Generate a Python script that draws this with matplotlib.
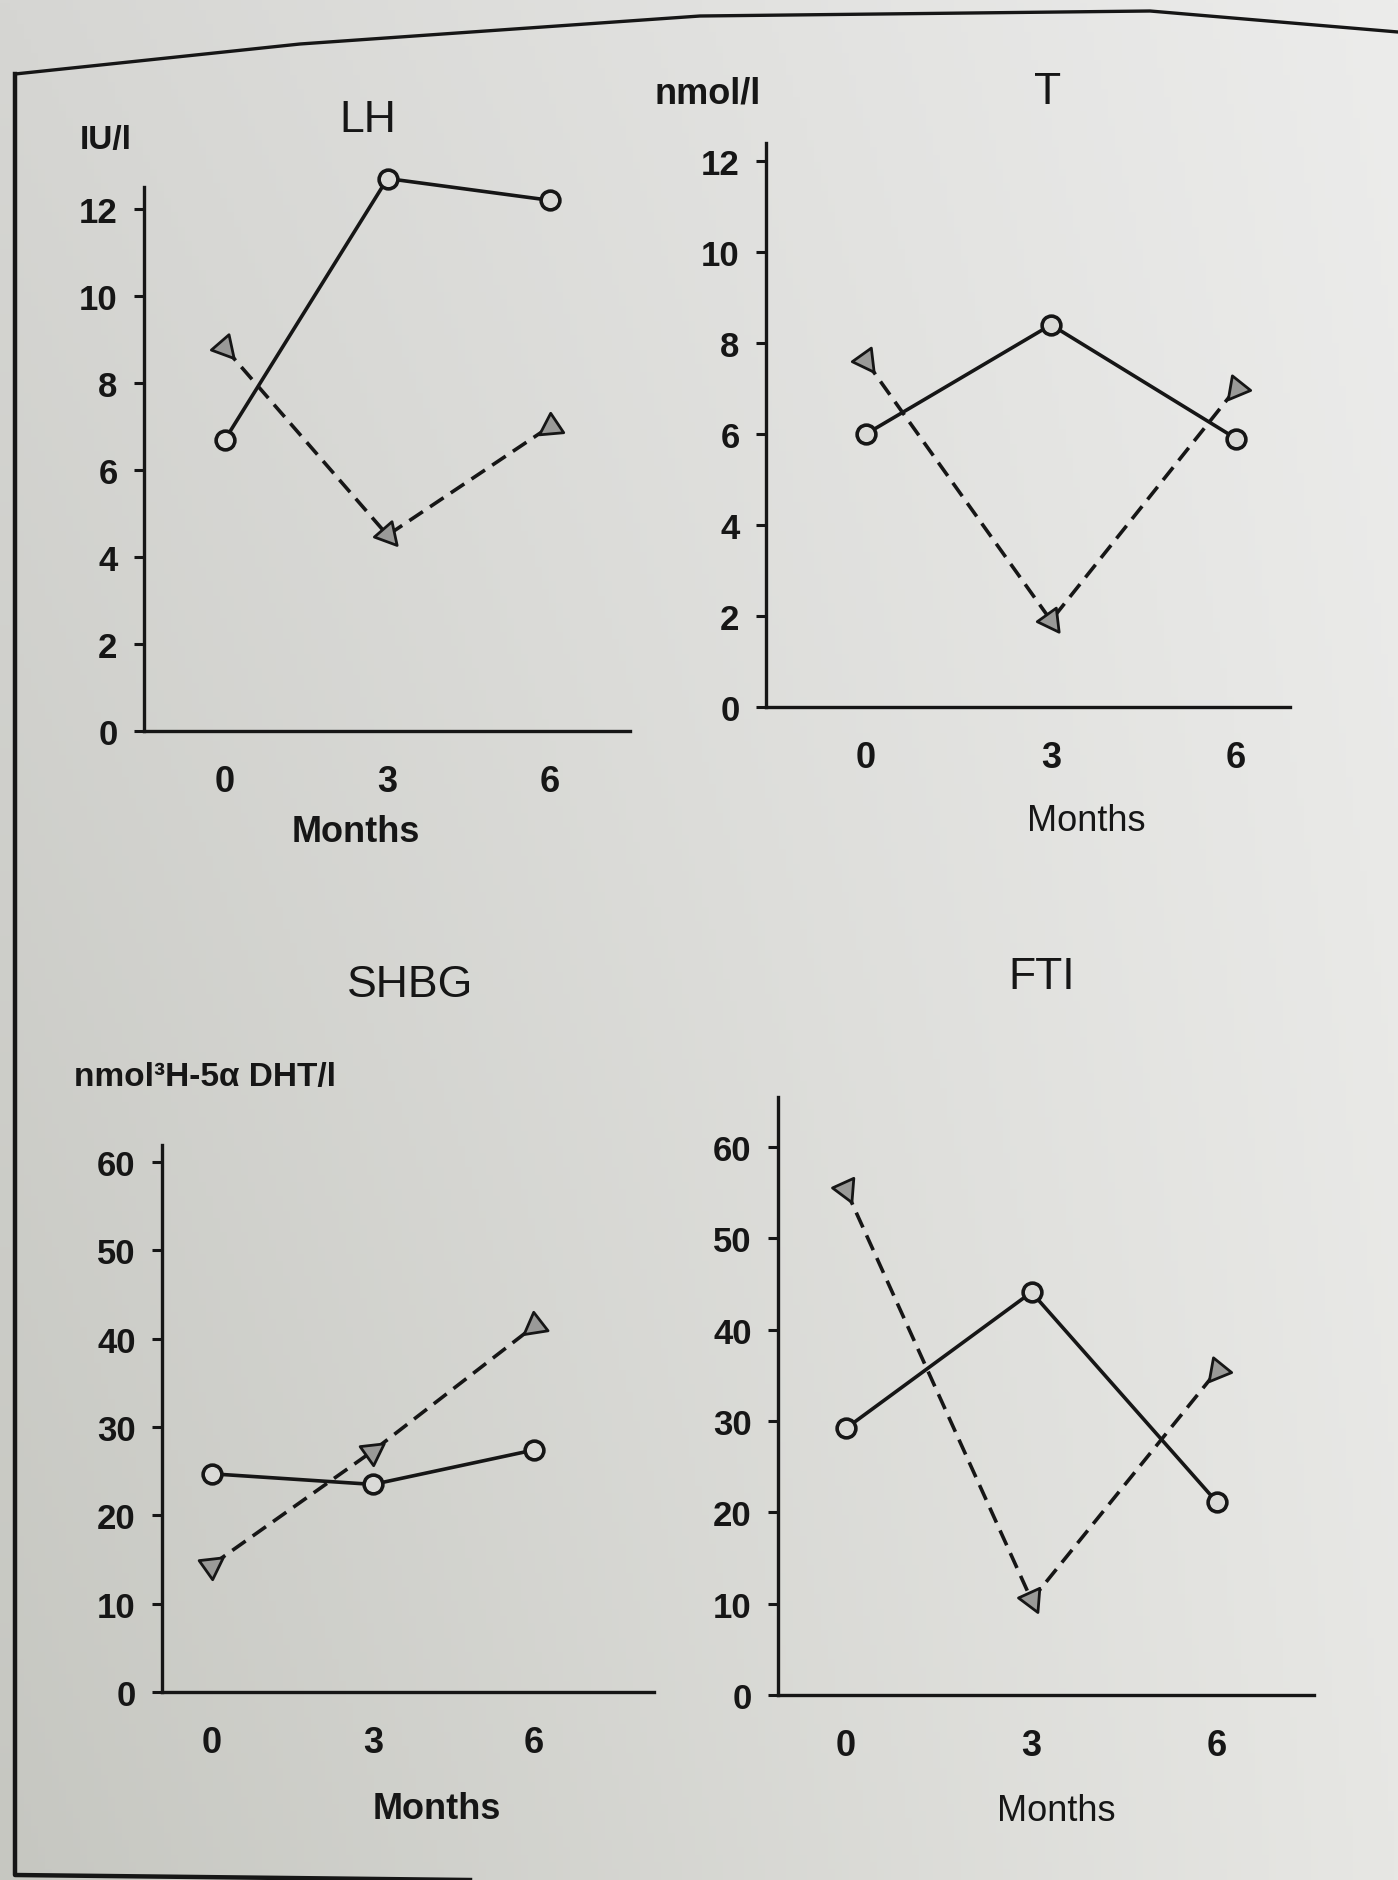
import numpy as np
import matplotlib
matplotlib.use("Agg")
import matplotlib.pyplot as plt
from matplotlib.lines import Line2D
from matplotlib.markers import MarkerStyle
from matplotlib.path import Path
from matplotlib.transforms import Affine2D

# ---- data -------------------------------------------------------------
months = [0, 3, 6]
month_labels = ["0", "3", "6"]

lh_circle = [6.7, 12.7, 12.2]
lh_triangle = [8.8, 4.5, 7.0]

t_circle = [6.0, 8.4, 5.9]
t_triangle = [7.6, 1.9, 7.0]

shbg_circle = [24.7, 23.5, 27.4]
shbg_triangle = [14.4, 27.3, 41.4]

fti_circle = [29.2, 44.1, 21.1]
fti_triangle = [55.3, 10.4, 35.5]

lh_ticks = [0, 2, 4, 6, 8, 10, 12]
t_ticks = [0, 2, 4, 6, 8, 10, 12]
shbg_ticks = [0, 10, 20, 30, 40, 50, 60]
fti_ticks = [0, 10, 20, 30, 40, 50, 60]

# ---- figure -----------------------------------------------------------
W, H = 1398, 1881
DPI = 100
INK = "#161616"
LW = 2.6
FONT = ["Liberation Sans", "DejaVu Sans"]
plt.rcParams["font.family"] = FONT

fig = plt.figure(figsize=(W / DPI, H / DPI), dpi=DPI)

# paper tone, slightly darker towards the lower left
bg = fig.add_axes([0, 0, 1, 1], zorder=-10)
tl = np.array([214, 214, 211]); tr = np.array([236, 236, 235])
bl = np.array([198, 199, 193]); br = np.array([231, 231, 228])
u = np.linspace(0, 1, 200)[None, :, None]
v = np.linspace(0, 1, 260)[:, None, None]
grad = (1 - v) * ((1 - u) * tl + u * tr) + v * ((1 - u) * bl + u * br)
bg.imshow(grad.astype(np.uint8), aspect="auto", extent=[0, 1, 0, 1],
          interpolation="bilinear")
bg.set_axis_off()


def fx(px):
    return px / W


def fy(py):
    return 1 - py / H


# outer frame of the figure panel
frame_top_x = [15, 300, 700, 1150, 1398]
frame_top_y = [75, 45, 17, 12, 33]
fig.add_artist(Line2D([fx(x) for x in frame_top_x], [fy(y) for y in frame_top_y],
                      color=INK, lw=2.4, transform=fig.transFigure))
fig.add_artist(Line2D([fx(15), fx(15), fx(470)], [fy(75), fy(1876), fy(1881)],
                      color=INK, lw=3.2, transform=fig.transFigure))

# triangle marker with its apex pointing up, centred on the value
tri_path = Path([(0, 0.62), (-0.55, -0.38), (0.55, -0.38), (0, 0.62)],
                [Path.MOVETO, Path.LINETO, Path.LINETO, Path.CLOSEPOLY])


def make_axes(left, top, right, bottom, x0px, x6px, y0px, ytop_val_px, ytop_val):
    ax = fig.add_axes([fx(left), fy(bottom), (right - left) / W, (bottom - top) / H])
    ax.patch.set_alpha(0)
    ppu_x = (x6px - x0px) / 6.0
    ax.set_xlim((left - x0px) / ppu_x, (right - x0px) / ppu_x)
    ppu_y = (y0px - ytop_val_px) / ytop_val
    ax.set_ylim(0, (bottom - top) / ppu_y)
    for s in ("top", "right"):
        ax.spines[s].set_visible(False)
    for s in ("left", "bottom"):
        ax.spines[s].set_linewidth(2.4)
        ax.spines[s].set_color(INK)
    return ax


def draw_panel(ax, circle, triangle, yticks):
    ax.set_yticks(yticks)
    ax.set_yticklabels([str(t) for t in yticks])
    ax.set_xticks(months)
    ax.set_xticklabels(month_labels)
    ax.tick_params(axis="y", direction="out", length=7, width=2.2, color=INK,
                   pad=12, labelsize=25, labelcolor=INK)
    ax.tick_params(axis="x", length=0, pad=24, labelsize=26, labelcolor=INK)
    for lab in ax.get_yticklabels() + ax.get_xticklabels():
        lab.set_fontweight("bold")

    # dashed series; triangle apexes point back along the line
    ax.plot(months, triangle, color=INK, lw=LW, dashes=(4.5, 2.4), zorder=2,
            clip_on=False)
    pts = ax.transData.transform(np.column_stack([months, triangle]))
    dirs = [pts[1] - pts[0], pts[1] - pts[0], pts[1] - pts[2]]
    for xm, ym, d in zip(months, triangle, dirs):
        ang = np.degrees(np.arctan2(d[1], d[0])) - 90
        mk = MarkerStyle(tri_path, transform=Affine2D().rotate_deg(ang))
        ax.plot([xm], [ym], linestyle="none", marker=mk, markersize=19,
                markerfacecolor="#9a9a98", markeredgecolor=INK,
                markeredgewidth=2.0, zorder=3, clip_on=False)

    # solid series with open circles
    ax.plot(months, circle, color=INK, lw=LW, marker="o", markersize=13.5,
            markerfacecolor="#dadad7", markeredgecolor=INK,
            markeredgewidth=2.6, zorder=4, clip_on=False)


# LH
ax_lh = make_axes(144, 188, 630, 732, 225, 550, 732, 210, 12)
draw_panel(ax_lh, lh_circle, lh_triangle, lh_ticks)
# T
ax_t = make_axes(766, 144, 1290, 708, 866, 1236, 708, 162, 12)
draw_panel(ax_t, t_circle, t_triangle, t_ticks)
# SHBG
ax_s = make_axes(162, 1146, 654, 1693, 212, 534, 1693, 1163, 60)
draw_panel(ax_s, shbg_circle, shbg_triangle, shbg_ticks)
# FTI
ax_f = make_axes(778, 1098, 1314, 1696, 846, 1217, 1696, 1148, 60)
draw_panel(ax_f, fti_circle, fti_triangle, fti_ticks)

# titles
for txt, x, y in [("LH", 368, 120), ("T", 1048, 92), ("SHBG", 410, 986), ("FTI", 1042, 978)]:
    fig.text(fx(x), fy(y), txt, ha="center", va="center", fontsize=32, color=INK)

# unit labels
fig.text(fx(106), fy(140), "IU/l", ha="center", va="center", fontsize=24,
         fontweight="bold", color=INK)
fig.text(fx(708), fy(94), "nmol/l", ha="center", va="center", fontsize=26,
         fontweight="bold", color=INK)
fig.text(fx(74), fy(1078), "nmol\u00b3H-5\u03b1 DHT/l", ha="left", va="center",
         fontsize=24, fontweight="bold", color=INK)

# axis titles
for x, y, w in [(356, 832, "bold"), (1086, 822, "normal"), (437, 1810, "bold"),
                (1056, 1812, "normal")]:
    fig.text(fx(x), fy(y), "Months", ha="center", va="center", fontsize=26,
             fontweight=w, color=INK)

fig.savefig("out.png", dpi=DPI)
